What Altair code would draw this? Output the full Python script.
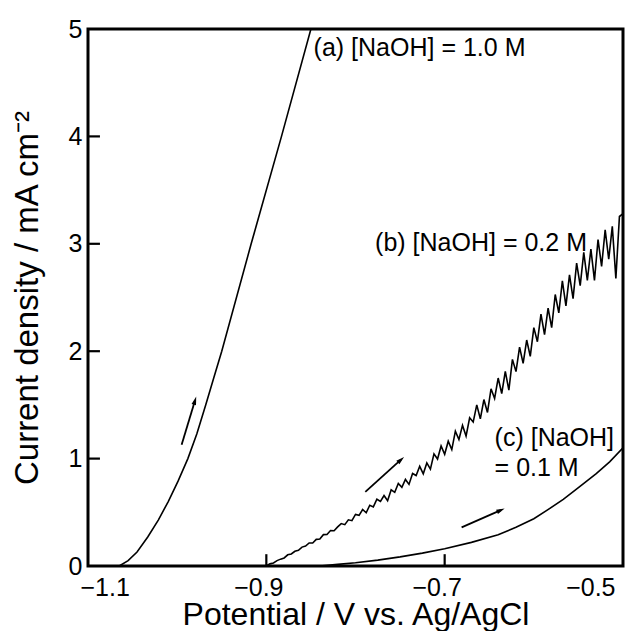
import altair as alt
import pandas as pd

# ---- data ----
# (a) [NaOH] = 1.0 M
a_pot = [-1.065, -1.055, -1.045, -1.033, -1.021, -1.010, -0.999, -0.988, -0.978, -0.968, -0.959, -0.950, -0.917, -0.883, -0.850]
a_cur = [0.00, 0.05, 0.13, 0.27, 0.43, 0.60, 0.79, 1.00, 1.23, 1.50, 1.75, 2.00, 3.00, 4.00, 5.00]

# (b) [NaOH] = 0.2 M  (noisy trace, step 0.004 V from -0.900 to -0.500)
b_pot = [round(-0.900 + 0.004 * i, 3) for i in range(101)]
b_cur = [
    0.000, 0.020, 0.028, 0.050, 0.064, 0.075, 0.104, 0.112, 0.137, 0.146,
    0.176, 0.185, 0.214, 0.214, 0.248, 0.252, 0.292, 0.294, 0.330, 0.328,
    0.364, 0.395, 0.385, 0.430, 0.422, 0.480, 0.472, 0.526, 0.496, 0.566,
    0.550, 0.622, 0.602, 0.656, 0.608, 0.710, 0.686, 0.768, 0.732, 0.806,
    0.760, 0.861, 0.842, 0.928, 0.859, 0.960, 0.902, 1.044, 0.996, 1.118,
    1.040, 1.162, 1.084, 1.256, 1.178, 1.310, 1.210, 1.380, 1.340, 1.500,
    1.370, 1.550, 1.430, 1.650, 1.560, 1.750, 1.606, 1.812, 1.638, 1.924,
    1.810, 2.038, 1.886, 2.104, 1.952, 2.220, 2.088, 2.346, 2.154, 2.402,
    2.220, 2.528, 2.356, 2.654, 2.422, 2.710, 2.490, 2.820, 2.610, 2.920,
    2.660, 2.950, 2.660, 3.040, 2.790, 3.130, 2.856, 3.162, 2.678, 3.254,
    3.280,
]

# (c) [NaOH] = 0.1 M
c_pot = [-0.840, -0.820, -0.800, -0.775, -0.750, -0.725, -0.700, -0.670, -0.640, -0.620, -0.600, -0.585, -0.567, -0.550, -0.530, -0.515, -0.500]
c_cur = [0.00, 0.015, 0.030, 0.055, 0.085, 0.12, 0.16, 0.22, 0.29, 0.36, 0.44, 0.52, 0.62, 0.73, 0.86, 0.97, 1.10]

# arrows (start -> end, data units)
arrow_x1 = [-0.995, -0.789, -0.681]
arrow_y1 = [1.13, 0.69, 0.36]
arrow_x2 = [-0.980, -0.749, -0.637]
arrow_y2 = [1.54, 0.99, 0.52]
arrow_angle = [17, 48, 66]

# annotations
label_text = ["(a) [NaOH] = 1.0 M", "(b) [NaOH] = 0.2 M", "(c) [NaOH]", "= 0.1 M"]
label_x = [-0.847, -0.778, -0.644, -0.644]
label_y = [4.82, 3.01, 1.19, 0.91]

x_ticks = [-1.1, -0.9, -0.7, -0.5]
y_ticks = [0, 1, 2, 3, 4, 5]
x_inner_ticks = [-0.9, -0.7]
y_inner_ticks = [1, 2, 3, 4]
x_frame = [-1.1, -0.5]
y_frame = [0, 5]

W, H = 535, 537
FONT = "Liberation Sans"

curves = pd.concat([
    pd.DataFrame({"pot": a_pot, "cur": a_cur, "s": "a", "o": range(len(a_pot))}),
    pd.DataFrame({"pot": b_pot, "cur": b_cur, "s": "b", "o": range(len(b_pot))}),
    pd.DataFrame({"pot": c_pot, "cur": c_cur, "s": "c", "o": range(len(c_pot))}),
])
arrows = pd.DataFrame({"x1": arrow_x1, "y1": arrow_y1, "x2": arrow_x2, "y2": arrow_y2, "ang": arrow_angle})
labels = pd.DataFrame({"t": label_text, "x": label_x, "y": label_y})

xs = alt.Scale(domain=[-1.1, -0.5], nice=False, zero=False)
ys = alt.Scale(domain=[0, 5], nice=False)

xaxis = alt.Axis(values=x_ticks, format=".1f", title="Potential / V vs. Ag/AgCl",
                 ticks=False, tickSize=0, domain=False, grid=False,
                 labelFontSize=25, labelPadding=9, labelOffset=-8, labelColor="black",
                 titleFontSize=32, titleFontWeight="normal", titleColor="black",
                 titleBaseline="alphabetic", titleY=58, labelFont=FONT, titleFont=FONT)
yaxis = alt.Axis(values=y_ticks, format="d", title="Current density / mA cm⁻²",
                 ticks=False, tickSize=0, domain=False, grid=False,
                 labelFontSize=25, labelPadding=6, labelColor="black",
                 titleFontSize=33, titleFontWeight="normal", titleColor="black",
                 titleBaseline="alphabetic", titleX=-51, labelFont=FONT, titleFont=FONT)

lines = alt.Chart(curves).mark_line(color="black", strokeWidth=1.6, clip=True).encode(
    x=alt.X("pot:Q", scale=xs, axis=xaxis),
    y=alt.Y("cur:Q", scale=ys, axis=yaxis),
    detail="s:N",
    order="o:Q",
)

# inward tick marks (drawn as short rules in data coordinates)
xt_df = pd.DataFrame({"v": x_inner_ticks, "y0": [0.0] * len(x_inner_ticks), "y1": [0.11] * len(x_inner_ticks)})
yt_df = pd.DataFrame({"v": y_inner_ticks, "x0": [-1.1] * len(y_inner_ticks), "x1": [-1.0866] * len(y_inner_ticks)})
xt = alt.Chart(xt_df).mark_rule(color="black", strokeWidth=2.2).encode(
    x=alt.X("v:Q", scale=xs), y=alt.Y("y0:Q", scale=ys), y2="y1:Q")
yt = alt.Chart(yt_df).mark_rule(color="black", strokeWidth=2.2).encode(
    y=alt.Y("v:Q", scale=ys), x=alt.X("x0:Q", scale=xs), x2="x1:Q")

# frame
frame_df = pd.DataFrame({"x0": [x_frame[0]], "x1": [x_frame[1]], "y0": [y_frame[0]], "y1": [y_frame[1]]})
frame = alt.Chart(frame_df).mark_rect(fill="transparent", stroke="black", strokeWidth=3).encode(
    x=alt.X("x0:Q", scale=xs), x2="x1:Q", y=alt.Y("y0:Q", scale=ys), y2="y1:Q")

arrow_lines = alt.Chart(arrows).mark_rule(color="black", strokeWidth=1.8).encode(
    x=alt.X("x1:Q", scale=xs), y=alt.Y("y1:Q", scale=ys), x2="x2:Q", y2="y2:Q")
arrow_heads = alt.Chart(arrows).mark_point(
    shape="M0,-1L0.55,1L-0.55,1Z", filled=True, color="black", size=70, opacity=1
).encode(x=alt.X("x2:Q", scale=xs), y=alt.Y("y2:Q", scale=ys), angle=alt.Angle("ang:Q", scale=None))

texts = alt.Chart(labels).mark_text(align="left", baseline="middle", fontSize=25, font=FONT, color="black").encode(
    x=alt.X("x:Q", scale=xs), y=alt.Y("y:Q", scale=ys), text="t:N")

chart = alt.layer(lines, xt, yt, frame, arrow_lines, arrow_heads, texts).properties(
    width=W, height=H,
    background="white",
    autosize=alt.AutoSizeParams(type="none"),
    padding={"left": 80, "top": 21, "right": 13, "bottom": 65},
).configure_view(stroke=None)

chart.save("out.html", embed_options={"renderer": "svg", "actions": False})
